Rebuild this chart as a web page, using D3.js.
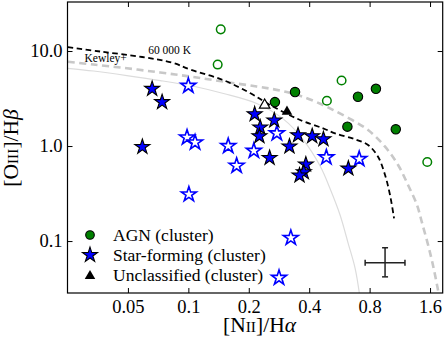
<!DOCTYPE html>
<html>
<head>
<meta charset="utf-8">
<script src="https://cdn.jsdelivr.net/npm/d3@7"></script>
<style>
  body { margin: 0; background: #fff; }
  text { font-family: "Liberation Serif", "DejaVu Serif", serif; fill: #000; }
</style>
</head>
<body>
<div id="chart"></div>
<script>
// [NII]/Ha vs [OIII]/Hb diagnostic diagram

// points as [NII/Ha, OIII/Hb]
const agnCluster = [[0.27, 2.9], [0.34, 3.7], [0.70, 3.3], [0.86, 4.0], [0.62, 1.6], [1.08, 1.5]];
const agnField = [[0.145, 16.9], [0.14, 7.2], [0.58, 4.9], [0.49, 3.0], [1.55, 0.68]];
const sfCluster = [
  [0.066, 4.0], [0.074, 2.9], [0.059, 0.98], [0.214, 2.16], [0.268, 1.86], [0.228, 1.57],
  [0.226, 1.27], [0.352, 1.30], [0.414, 1.27], [0.471, 1.18], [0.319, 0.99], [0.254, 0.75],
  [0.385, 0.64], [0.376, 0.53], [0.358, 0.49], [0.627, 0.58],
];
const sfField = [
  [0.100, 4.3], [0.0985, 1.23], [0.108, 1.09], [0.158, 1.0], [0.212, 0.89], [0.174, 0.62],
  [0.276, 1.36], [0.487, 0.76], [0.71, 0.73], [0.1006, 0.31], [0.324, 0.108], [0.283, 0.041],
];
const unclCluster = [[0.31, 2.3]];
const unclField = [[0.24, 2.7]];

// typical uncertainty
const errCenter = [0.955, 0.059];
const errXRange = [0.76, 1.2];
const errYRange = [0.042, 0.085];

// demarcation curves
const line60kK = [
  [0.0251, 11.0], [0.0364, 9.88], [0.0589, 8.65], [0.084, 7.48], [0.1021, 6.39], [0.149, 4.95],
  [0.203, 3.61], [0.2556, 2.70], [0.3605, 1.88], [0.469, 1.536], [0.538, 1.36], [0.677, 1.178],
  [0.786, 1.025], [0.881, 0.772], [0.955, 0.495], [1.011, 0.305], [1.059, 0.1734],
];
const kewleyLine = [
  [0.0251, 7.72], [0.0336, 7.21], [0.0494, 6.58], [0.0724, 5.94], [0.1021, 5.39], [0.149, 4.77],
  [0.219, 4.23], [0.2866, 3.84], [0.373, 3.30], [0.469, 2.70], [0.538, 2.34], [0.654, 1.88],
  [0.786, 1.474], [0.955, 0.984], [1.109, 0.631], [1.243, 0.389], [1.378, 0.239], [1.46, 0.155],
  [1.58, 0.084], [1.675, 0.0495], [1.764, 0.0284],
];
const kauffLine = [
  [0.0251, 6.58], [0.0337, 6.16], [0.0494, 5.52], [0.0724, 4.89], [0.1103, 4.18], [0.1496, 3.57],
  [0.219, 2.80], [0.2977, 1.92], [0.3745, 1.156], [0.4535, 0.616], [0.509, 0.353], [0.570, 0.188],
  [0.625, 0.0953], [0.677, 0.052], [0.711, 0.0284],
];

const xTicks = [0.05, 0.1, 0.2, 0.4, 0.8, 1.6];
const xTickLabels = ["0.05", "0.1", "0.2", "0.4", "0.8", "1.6"];
const yTicks = [0.1, 1, 10];
const yTickLabels = ["0.1", "1.0", "10.0"];

const legendLabels = ["AGN (cluster)", "Star-forming (cluster)", "Unclassified (cluster)"];

const W = 447, H = 339;
const plot = { left: 67.5, right: 442.7, top: 2, bottom: 293 };

const svg = d3.select("#chart").append("svg")
  .attr("width", W).attr("height", H)
  .attr("viewBox", `0 0 ${W} ${H}`);

const x = d3.scaleLog().domain([0.025, 1.85]).range([plot.left, plot.right]);
const y = d3.scaleLog().domain([0.0284, 32.8]).range([plot.bottom, plot.top]);

svg.append("clipPath").attr("id", "clip")
  .append("rect")
  .attr("x", plot.left).attr("y", plot.top)
  .attr("width", plot.right - plot.left).attr("height", plot.bottom - plot.top);

const g = svg.append("g").attr("clip-path", "url(#clip)");

const lineGen = d3.line()
  .x((d) => x(d[0]))
  .y((d) => y(d[1]))
  .curve(d3.curveCatmullRom.alpha(0.5));

g.append("path").datum(kauffLine)
  .attr("d", lineGen).attr("fill", "none")
  .attr("stroke", "#dcdcdc").attr("stroke-width", 1.2);

g.append("path").datum(kewleyLine)
  .attr("d", lineGen).attr("fill", "none")
  .attr("stroke", "#c8c8c8").attr("stroke-width", 2.6)
  .attr("stroke-dasharray", "7,4.5");

g.append("path").datum(line60kK)
  .attr("d", lineGen).attr("fill", "none")
  .attr("stroke", "#000").attr("stroke-width", 1.8)
  .attr("stroke-dasharray", "5.5,3.5");

svg.append("text")
  .attr("x", x(0.0631)).attr("y", y(9.3))
  .attr("font-size", 11.5).text("60 000 K");

svg.append("text")
  .attr("x", x(0.0304)).attr("y", y(7.65))
  .attr("font-size", 11.5).text("Kewley+");

const star = d3.symbol().type(d3.symbolStar).size(70);
const tri = d3.symbol().type(d3.symbolTriangle).size(48);

// open (field) markers
g.selectAll(".sf-open").data(sfField).join("path")
  .attr("class", "sf-open")
  .attr("d", star)
  .attr("transform", (d) => `translate(${x(d[0])},${y(d[1])})`)
  .attr("fill", "#fff").attr("stroke", "#0000ff").attr("stroke-width", 1.6)
  .attr("stroke-linejoin", "miter");

g.selectAll(".agn-open").data(agnField).join("circle")
  .attr("class", "agn-open")
  .attr("cx", (d) => x(d[0])).attr("cy", (d) => y(d[1])).attr("r", 4.3)
  .attr("fill", "#fff").attr("stroke", "#008000").attr("stroke-width", 1.5);

g.selectAll(".uncl-open").data(unclField).join("path")
  .attr("class", "uncl-open")
  .attr("d", tri)
  .attr("transform", (d) => `translate(${x(d[0])},${y(d[1])})`)
  .attr("fill", "#fff").attr("stroke", "#000").attr("stroke-width", 1.2);

// cluster markers
g.selectAll(".agn").data(agnCluster).join("circle")
  .attr("class", "agn")
  .attr("cx", (d) => x(d[0])).attr("cy", (d) => y(d[1])).attr("r", 4.7)
  .attr("fill", "#008000").attr("stroke", "#000").attr("stroke-width", 1.1);

g.selectAll(".uncl").data(unclCluster).join("path")
  .attr("class", "uncl")
  .attr("d", tri)
  .attr("transform", (d) => `translate(${x(d[0])},${y(d[1])})`)
  .attr("fill", "#000");

g.selectAll(".sf").data(sfCluster).join("path")
  .attr("class", "sf")
  .attr("d", star)
  .attr("transform", (d) => `translate(${x(d[0])},${y(d[1])})`)
  .attr("fill", "#0000ff").attr("stroke", "#000").attr("stroke-width", 1.1);

// error bar
const eb = svg.append("g").attr("stroke", "#222").attr("stroke-width", 1.5);
eb.append("line")
  .attr("x1", x(errXRange[0])).attr("x2", x(errXRange[1]))
  .attr("y1", y(errCenter[1])).attr("y2", y(errCenter[1]));
eb.append("line")
  .attr("x1", x(errCenter[0])).attr("x2", x(errCenter[0]))
  .attr("y1", y(errYRange[0])).attr("y2", y(errYRange[1]));
errXRange.forEach((v) => eb.append("line")
  .attr("x1", x(v)).attr("x2", x(v))
  .attr("y1", y(errCenter[1]) - 3).attr("y2", y(errCenter[1]) + 3));
errYRange.forEach((v) => eb.append("line")
  .attr("x1", x(errCenter[0]) - 3).attr("x2", x(errCenter[0]) + 3)
  .attr("y1", y(v)).attr("y2", y(v)));

// axes, ticks pointing inward on all sides
const xAxis = svg.append("g")
  .attr("transform", `translate(0,${plot.bottom})`)
  .call(d3.axisBottom(x).tickValues(xTicks)
    .tickFormat((d, i) => xTickLabels[i]).tickSize(-5).tickPadding(7));
svg.append("g")
  .attr("transform", `translate(0,${plot.top})`)
  .call(d3.axisTop(x).tickValues(xTicks).tickFormat("").tickSize(-5));
const yAxis = svg.append("g")
  .attr("transform", `translate(${plot.left},0)`)
  .call(d3.axisLeft(y).tickValues(yTicks)
    .tickFormat((d, i) => yTickLabels[i]).tickSize(-5).tickPadding(5));
svg.append("g")
  .attr("transform", `translate(${plot.right},0)`)
  .call(d3.axisRight(y).tickValues(yTicks).tickFormat("").tickSize(-5));

svg.selectAll(".domain").remove();
svg.selectAll(".tick line").attr("stroke", "#000").attr("stroke-width", 1);
xAxis.selectAll("text").attr("font-size", 18.5).attr("font-family", "Liberation Serif");
yAxis.selectAll("text").attr("font-size", 18.5).attr("font-family", "Liberation Serif");

svg.append("rect")
  .attr("x", plot.left).attr("y", plot.top)
  .attr("width", plot.right - plot.left).attr("height", plot.bottom - plot.top)
  .attr("fill", "none").attr("stroke", "#000").attr("stroke-width", 1.2);

// axis labels
const xl = svg.append("text")
  .attr("x", 259.5).attr("y", 332)
  .attr("text-anchor", "middle").attr("font-size", 21.5);
xl.append("tspan").text("[N");
xl.append("tspan").attr("font-size", 15.5).text("II");
xl.append("tspan").text("]/H");
xl.append("tspan").attr("font-style", "italic").text("α");

const yl = svg.append("text")
  .attr("transform", "translate(18,148) rotate(-90)")
  .attr("text-anchor", "middle").attr("font-size", 21.5);
yl.append("tspan").text("[O");
yl.append("tspan").attr("font-size", 15.5).text("III");
yl.append("tspan").text("]/H");
yl.append("tspan").attr("font-style", "italic").text("β");

// legend
const leg = svg.append("g");
const rowY = [235, 255, 275];
leg.append("circle").attr("cx", 90).attr("cy", rowY[0]).attr("r", 4.3)
  .attr("fill", "#008000").attr("stroke", "#000").attr("stroke-width", 1.1);
leg.append("path").attr("d", star)
  .attr("transform", `translate(90,${rowY[1]})`)
  .attr("fill", "#0000ff").attr("stroke", "#000").attr("stroke-width", 1.1);
leg.append("path").attr("d", tri)
  .attr("transform", `translate(90,${rowY[2] + 1})`)
  .attr("fill", "#000");
leg.selectAll(".leg-label").data(legendLabels).join("text")
  .attr("class", "leg-label")
  .attr("x", 113).attr("y", (d, i) => rowY[i])
  .attr("dy", "0.33em").attr("font-size", 17.5)
  .text((d) => d);
</script>
</body>
</html>
